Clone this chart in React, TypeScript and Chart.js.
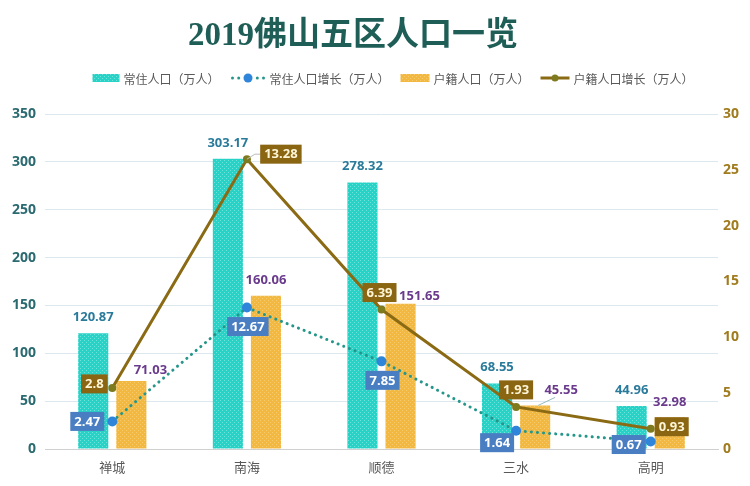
import React, { useEffect, useRef } from "react";
import { Chart, registerables } from "chart.js";

Chart.register(...registerables);

// ---------- data ----------
const titleText = "2019佛山五区人口一览";
const categories = ["禅城", "南海", "顺德", "三水", "高明"];
const residentPop = [120.87, 303.17, 278.32, 68.55, 44.96];
const residentGrowth = [2.47, 12.67, 7.85, 1.64, 0.67];
const registeredPop = [71.03, 160.06, 151.65, 45.55, 32.98];
const registeredGrowth = [2.8, 13.28, 6.39, 1.93, 0.93];
const seriesNames = ["常住人口（万人）", "常住人口增长（万人）", "户籍人口（万人）", "户籍人口增长（万人）"];
const leftAxis = { min: 0, max: 350, step: 50 };
const rightAxis = { min: 0, max: 30, step: 5 };

// ---------- style ----------
const CYAN = "#27D2C7";
const YELLOW = "#F3B83F";
const TEAL_DOTS = "#24968A";
const BLUE = "#2F85DA";
const OLIVE = "#8B6A14";
const OLIVE_PT = "#7E7A1E";
const NUM_FONT = '"Open Sans", "Liberation Sans", sans-serif';
const CJK_FONT = '"Noto Sans CJK SC", "Noto Sans", sans-serif';

// label placement nudges (pixels, relative to the element)
const regPopNudge = [[19, -11], [0, -16], [19, -8], [26, -15], [0, -15]];
const resGrowthNudge = [[-25, 0], [1, 19], [1, 19], [-19, 12], [-22, 3]];
const regGrowthNudge = [[-18, -4], [34, -5], [-2, -17], [0, -17], [21, -2]];

function makePattern(base: string, dot: string) {
  const c = document.createElement("canvas");
  c.width = 4;
  c.height = 4;
  const x = c.getContext("2d")!;
  x.fillStyle = base;
  x.fillRect(0, 0, 4, 4);
  x.fillStyle = dot;
  x.fillRect(0, 0, 1, 1);
  x.fillRect(2, 2, 1, 1);
  return x.createPattern(c, "repeat")!;
}

function drawBox(ctx: CanvasRenderingContext2D, cx: number, cy: number, text: string, bg: string, fg: string) {
  ctx.font = `bold 13px ${NUM_FONT}`;
  const w = ctx.measureText(text).width + 8;
  const h = 19;
  ctx.fillStyle = bg;
  ctx.fillRect(cx - w / 2, cy - h / 2, w, h);
  ctx.fillStyle = fg;
  ctx.textAlign = "center";
  ctx.textBaseline = "middle";
  ctx.fillText(text, cx, cy + 0.5);
  return w;
}

const labelPlugin = {
  id: "valueLabels",
  afterDatasetsDraw(chart: any) {
    const ctx: CanvasRenderingContext2D = chart.ctx;
    ctx.save();
    const m0 = chart.getDatasetMeta(0);
    ctx.font = `bold 13px ${NUM_FONT}`;
    ctx.textAlign = "center";
    ctx.textBaseline = "middle";
    m0.data.forEach((el: any, i: number) => {
      ctx.fillStyle = "#2A7B9B";
      ctx.fillText(residentPop[i].toFixed(2), el.x, el.y - 16);
    });
    const m2 = chart.getDatasetMeta(2);
    m2.data.forEach((el: any, i: number) => {
      const [dx, dy] = regPopNudge[i];
      if (i === 3) {
        ctx.strokeStyle = "#9BB";
        ctx.lineWidth = 1;
        ctx.beginPath();
        ctx.moveTo(el.x + 3, el.y);
        ctx.lineTo(el.x + dx - 6, el.y + dy + 7);
        ctx.stroke();
      }
      ctx.font = `bold 13px ${NUM_FONT}`;
      ctx.textAlign = "center";
      ctx.textBaseline = "middle";
      ctx.fillStyle = "#6A3A8C";
      ctx.fillText(registeredPop[i].toFixed(2), el.x + dx, el.y + dy);
    });
    const m1 = chart.getDatasetMeta(1);
    m1.data.forEach((el: any, i: number) => {
      const [dx, dy] = resGrowthNudge[i];
      drawBox(ctx, el.x + dx, el.y + dy, String(residentGrowth[i]), "#4A7EC3", "#FFFFFF");
    });
    const m3 = chart.getDatasetMeta(3);
    m3.data.forEach((el: any, i: number) => {
      const [dx, dy] = regGrowthNudge[i];
      if (i === 1) {
        ctx.strokeStyle = "#BBBBBB";
        ctx.lineWidth = 1;
        ctx.beginPath();
        ctx.moveTo(el.x, el.y);
        ctx.lineTo(el.x + 8, el.y - 5);
        ctx.lineTo(el.x + dx - 18, el.y + dy);
        ctx.stroke();
      }
      drawBox(ctx, el.x + dx, el.y + dy, String(registeredGrowth[i]), "#8A6512", "#FFF6D8");
    });
    ctx.restore();
  },
  afterDraw(chart: any) {
    const ctx: CanvasRenderingContext2D = chart.ctx;
    const W = chart.width;
    ctx.save();
    ctx.font = `bold 33px "Liberation Serif", "Noto Sans CJK SC", serif`;
    ctx.fillStyle = "#1E5E57";
    ctx.textAlign = "center";
    ctx.textBaseline = "middle";
    ctx.fillText(titleText, 345, 28);
    const ly = 70;
    ctx.font = `12px ${CJK_FONT}`;
    const symW = [27, 35, 29, 29];
    const gapSym = 4;
    const gapItem = 11;
    const widths = seriesNames.map((n) => ctx.measureText(n).width);
    let total = 0;
    for (let i = 0; i < 4; i++) total += symW[i] + gapSym + widths[i] + (i < 3 ? gapItem : 0);
    let x = W / 2 + 18 - total / 2;
    const cyanPat = chart.$cyanPat;
    const yellowPat = chart.$yellowPat;
    for (let i = 0; i < 4; i++) {
      const sw = symW[i];
      if (i === 0 || i === 2) {
        ctx.fillStyle = i === 0 ? cyanPat : yellowPat;
        ctx.fillRect(x, ly - 4, sw, 8);
      } else if (i === 1) {
        ctx.fillStyle = TEAL_DOTS;
        for (let k = 0; k < 6; k++) {
          const dx = x + 2 + k * 6.2;
          if (Math.abs(dx - (x + sw / 2)) < 5) continue;
          ctx.beginPath();
          ctx.arc(dx, ly, 1.5, 0, Math.PI * 2);
          ctx.fill();
        }
        ctx.fillStyle = BLUE;
        ctx.beginPath();
        ctx.arc(x + sw / 2, ly, 4.5, 0, Math.PI * 2);
        ctx.fill();
      } else {
        ctx.strokeStyle = OLIVE;
        ctx.lineWidth = 3;
        ctx.beginPath();
        ctx.moveTo(x, ly);
        ctx.lineTo(x + sw, ly);
        ctx.stroke();
        ctx.fillStyle = OLIVE_PT;
        ctx.beginPath();
        ctx.arc(x + sw / 2, ly, 3.5, 0, Math.PI * 2);
        ctx.fill();
      }
      x += sw + gapSym;
      ctx.fillStyle = "#595959";
      ctx.textAlign = "left";
      ctx.textBaseline = "middle";
      ctx.font = `12px ${CJK_FONT}`;
      ctx.fillText(seriesNames[i], x, ly + 1);
      x += widths[i] + gapItem;
    }
    ctx.restore();
  },
};

export default function App() {
  const ref = useRef<HTMLCanvasElement | null>(null);
  useEffect(() => {
    if (!ref.current) return;
    const cyanPat = makePattern(CYAN, "rgba(255,255,255,0.35)");
    const yellowPat = makePattern(YELLOW, "rgba(255,255,255,0.25)");
    const chart: any = new Chart(ref.current, {
      type: "bar",
      data: {
        labels: categories,
        datasets: [
          {
            type: "bar",
            label: seriesNames[0],
            data: residentPop,
            backgroundColor: cyanPat,
            yAxisID: "y",
            order: 2,
            barPercentage: 0.79,
            categoryPercentage: 0.566,
          },
          {
            type: "line",
            label: seriesNames[1],
            data: residentGrowth,
            yAxisID: "y1",
            borderColor: TEAL_DOTS,
            borderWidth: 3,
            borderDash: [0.1, 6],
            borderCapStyle: "round",
            pointRadius: 5,
            pointBackgroundColor: BLUE,
            pointBorderColor: BLUE,
            pointBorderWidth: 0,
            tension: 0,
            order: 0,
          },
          {
            type: "bar",
            label: seriesNames[2],
            data: registeredPop,
            backgroundColor: yellowPat,
            yAxisID: "y",
            order: 2,
            barPercentage: 0.79,
            categoryPercentage: 0.566,
          },
          {
            type: "line",
            label: seriesNames[3],
            data: registeredGrowth,
            yAxisID: "y2",
            borderColor: OLIVE,
            borderWidth: 3,
            pointRadius: 4,
            pointBackgroundColor: OLIVE_PT,
            pointBorderColor: OLIVE_PT,
            pointBorderWidth: 0,
            tension: 0,
            order: 1,
          },
        ] as any,
      },
      options: {
        animation: false,
        responsive: false,
        layout: { padding: { top: 106, left: 0, right: 0, bottom: 0 } },
        plugins: {
          legend: { display: false },
          title: { display: false },
          tooltip: { enabled: false },
        },
        scales: {
          x: {
            grid: { display: false, drawTicks: false },
            border: { display: true, color: "#D0D0D0" },
            ticks: { color: "#595959", font: { size: 13, family: CJK_FONT }, padding: 10 },
            afterFit: (s: any) => {
              s.height = 29;
            },
          },
          y: {
            position: "left",
            min: leftAxis.min,
            max: leftAxis.max,
            ticks: {
              stepSize: leftAxis.step,
              color: "#2A6A70",
              font: { size: 14, weight: "bold", family: NUM_FONT },
              padding: 9,
            },
            grid: { color: "#DCE7EE", drawTicks: false },
            border: { display: false },
            afterFit: (s: any) => {
              s.width = 37;
            },
          },
          y1: {
            position: "right",
            min: rightAxis.min,
            max: rightAxis.max,
            ticks: {
              stepSize: rightAxis.step,
              color: "#A07C1E",
              font: { size: 14, weight: "bold", family: NUM_FONT },
              padding: 5,
            },
            grid: { display: false, drawTicks: false },
            border: { display: false },
            afterFit: (s: any) => {
              s.width = 24;
            },
          },
          y2: { display: false, position: "right", min: 0, max: 15.35 },
        },
      } as any,
      plugins: [labelPlugin as any],
    });
    chart.$cyanPat = cyanPat;
    chart.$yellowPat = yellowPat;
    chart.draw();
    return () => chart.destroy();
  }, []);
  return (
    <div style={{ width: 734, height: 470 }}>
      <canvas ref={ref} width={734} height={470} style={{ display: "block", width: 734, height: 470 }} />
    </div>
  );
}
